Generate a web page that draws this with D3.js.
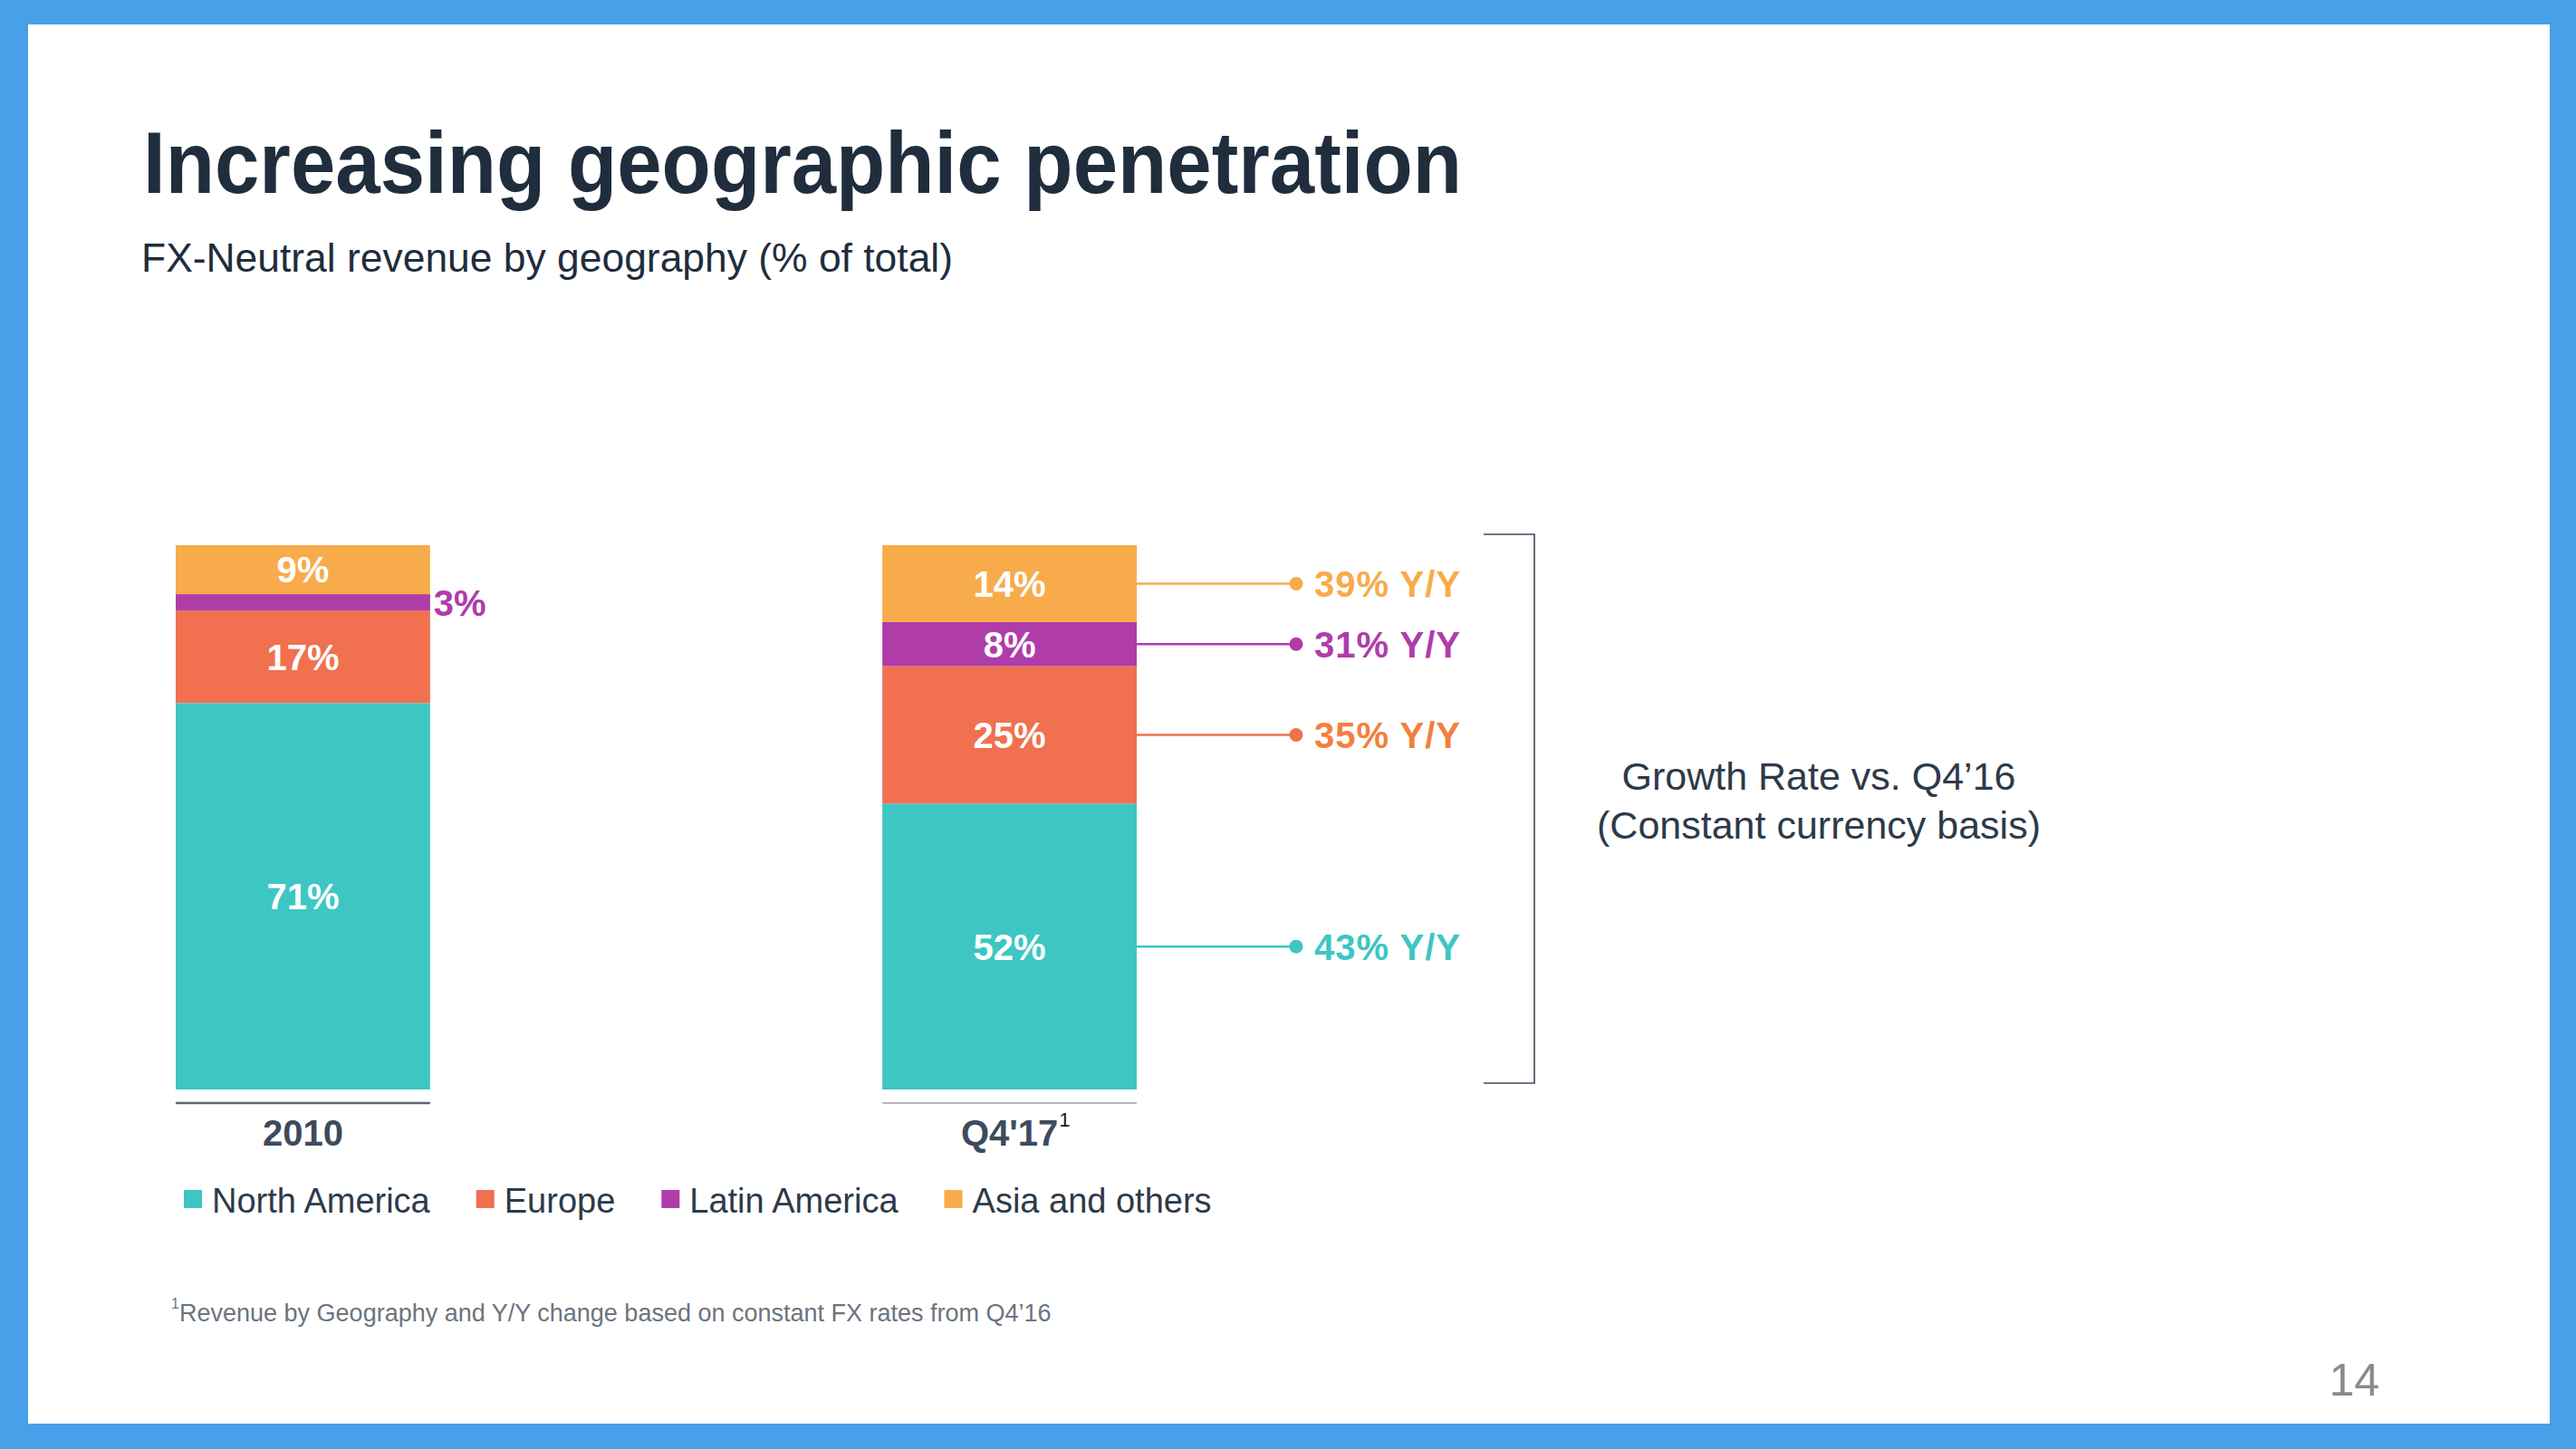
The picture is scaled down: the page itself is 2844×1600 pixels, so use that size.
<!DOCTYPE html>
<html><head><meta charset="utf-8">
<script src="https://cdn.jsdelivr.net/npm/d3@7"></script>
<style>
html,body{margin:0;padding:0;background:#48a0e8;}
svg{display:block;}
text{font-family:"Liberation Sans",Arial,Helvetica,sans-serif;}
</style></head>
<body>
<svg id="chart" width="2844" height="1600"></svg>
<script>
// ---- data ----
const periods = ["2010", "Q4'17"];
const regions = ["North America", "Europe", "Latin America", "Asia and others"];
const share2010 = [71, 17, 3, 9];
const shareQ417 = [52, 25, 8, 14];
const growthQ417 = [43, 35, 31, 39];   // Y/Y growth, constant currency
const colors = ["#3dc6c4", "#f07050", "#b03caa", "#f8ab4b"];
const growthColors = ["#3dc6c4", "#f2803e", "#b03caa", "#f8ab4b"];

const title = "Increasing geographic penetration";
const subtitle = "FX-Neutral revenue by geography (% of total)";
const sideNote = ["Growth Rate vs. Q4\u201916", "(Constant currency basis)"];
const footnote = "Revenue by Geography and Y/Y change based on constant FX rates from Q4\u201916";
const pageNum = "14";

// ---- setup ----
const svg = d3.select("#chart");
svg.append("rect").attr("x", 31).attr("y", 27).attr("width", 2784).attr("height", 1545).attr("fill", "#ffffff");

svg.append("text").attr("x", 158).attr("y", 213)
  .attr("font-size", 96).attr("font-weight", "bold").attr("fill", "#1f2d3d")
  .attr("textLength", 1456).attr("lengthAdjust", "spacingAndGlyphs")
  .text(title);
svg.append("text").attr("x", 156).attr("y", 300)
  .attr("font-size", 44).attr("fill", "#1f2d3d")
  .attr("textLength", 896).attr("lengthAdjust", "spacingAndGlyphs")
  .text(subtitle);

const table = periods.map((p, i) => {
  const vals = i === 0 ? share2010 : shareQ417;
  const o = {period: p};
  regions.forEach((r, j) => o[r] = vals[j]);
  return o;
});
const series = d3.stack().keys(regions).offset(d3.stackOffsetExpand)(table);

const x = d3.scaleBand().domain(periods).range([194, 1255]).paddingInner(0.64).paddingOuter(0);
const y = d3.scaleLinear().domain([0, 1]).range([1203, 602]);

const g = svg.append("g");
series.forEach((s, j) => {
  g.selectAll(null).data(s).enter().append("rect")
    .attr("x", d => x(d.data.period))
    .attr("y", d => y(d[1]))
    .attr("width", x.bandwidth())
    .attr("height", d => y(d[0]) - y(d[1]))
    .attr("fill", colors[j]);
  g.selectAll(null).data(s).enter().append("text")
    .attr("x", d => d.data[s.key] < 5 ? x(d.data.period) + x.bandwidth() + 4 : x(d.data.period) + x.bandwidth() / 2)
    .attr("y", d => (y(d[0]) + y(d[1])) / 2)
    .attr("dy", "0.36em")
    .attr("text-anchor", d => d.data[s.key] < 5 ? "start" : "middle")
    .attr("font-size", 40).attr("font-weight", "bold")
    .attr("fill", d => d.data[s.key] < 5 ? colors[j] : "#ffffff")
    .text(d => d.data[s.key] + "%");
});

// axis baselines and category labels
periods.forEach((p, i) => {
  svg.append("line").attr("x1", x(p)).attr("x2", x(p) + x.bandwidth())
    .attr("y1", 1218).attr("y2", 1218)
    .attr("stroke", i === 0 ? "#5b6673" : "#6b7480").attr("stroke-width", i === 0 ? 2.5 : 1.2);
  const t = svg.append("text").attr("x", x(p) + x.bandwidth() / 2).attr("y", 1265)
    .attr("text-anchor", "middle").attr("font-size", 40).attr("font-weight", "bold")
    .attr("fill", "#3d4b5c").text(p);
  if (i === 1) {
    const bb = t.node().getBBox();
    svg.append("text").attr("x", bb.x + bb.width + 1).attr("y", 1244)
      .attr("font-size", 22).attr("fill", "#1a1a1a").text("1");
  }
});

// growth connectors for Q4'17
const last = periods[1];
const lineEnd = 1431;
series.forEach((s, j) => {
  const d = s[1];
  const cy = (y(d[0]) + y(d[1])) / 2;
  svg.append("line").attr("x1", x(last) + x.bandwidth()).attr("x2", lineEnd)
    .attr("y1", cy).attr("y2", cy).attr("stroke", colors[j]).attr("stroke-width", 2.5);
  svg.append("circle").attr("cx", lineEnd).attr("cy", cy).attr("r", 7.5).attr("fill", colors[j]);
  svg.append("text").attr("x", 1451).attr("y", cy).attr("dy", "0.36em")
    .attr("font-size", 40).attr("font-weight", "bold").attr("fill", growthColors[j])
    .attr("letter-spacing", 1)
    .text(growthQ417[j] + "% Y/Y");
});

// bracket
svg.append("path").attr("d", "M1638,590 H1694 V1196 H1638")
  .attr("fill", "none").attr("stroke", "#3d4b5c").attr("stroke-width", 1.6);

sideNote.forEach((s, i) => {
  svg.append("text").attr("x", 2008).attr("y", 872 + i * 54)
    .attr("text-anchor", "middle").attr("font-size", 43).attr("fill", "#2d3a48").text(s);
});

// legend
let lx = 203;
regions.forEach((r, j) => {
  svg.append("rect").attr("x", lx).attr("y", 1314).attr("width", 20).attr("height", 20).attr("fill", colors[j]);
  const t = svg.append("text").attr("x", lx + 31).attr("y", 1339)
    .attr("font-size", 38).attr("fill", "#2d3a48").text(r);
  lx = lx + 31 + t.node().getComputedTextLength() + 51;
});

// footnote
svg.append("text").attr("x", 189).attr("y", 1445).attr("font-size", 16).attr("fill", "#6b7480").text("1");
svg.append("text").attr("x", 198).attr("y", 1459).attr("font-size", 27).attr("fill", "#6b7480").text(footnote);

svg.append("text").attr("x", 2627).attr("y", 1541).attr("text-anchor", "end")
  .attr("font-size", 50).attr("font-weight", 300).attr("fill", "#8a8a8a").text(pageNum);
</script>
</body></html>
